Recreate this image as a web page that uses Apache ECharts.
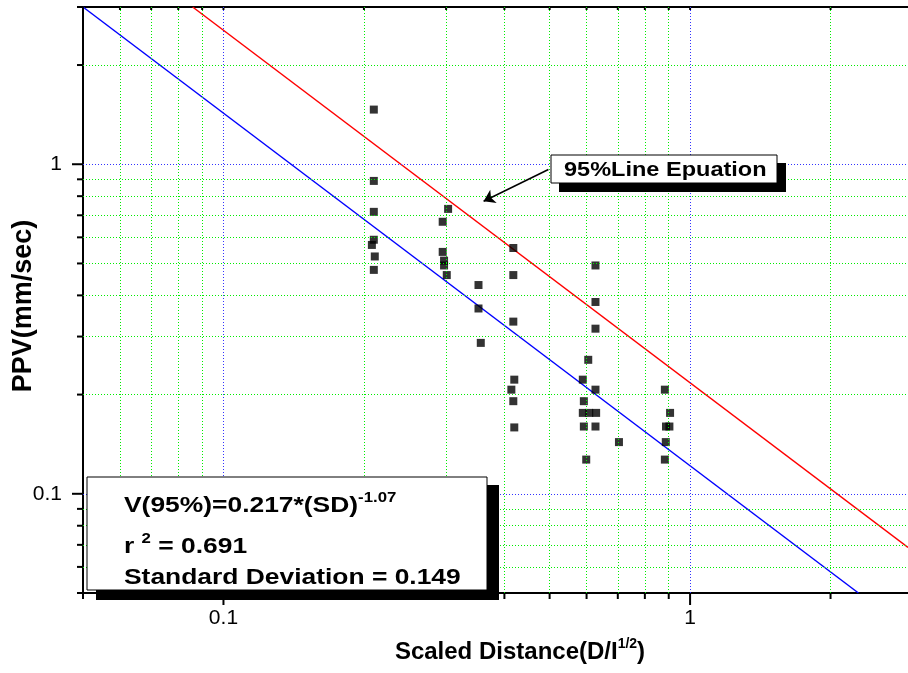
<!DOCTYPE html>
<html>
<head>
<meta charset="utf-8">
<script src="https://cdn.jsdelivr.net/npm/echarts@6/dist/echarts.min.js"></script>
<style>html,body{margin:0;padding:0;background:#fff}#c{width:908px;height:673px}</style>
</head>
<body>
<div id="c"></div>
<script>
// ---------- data ----------
const xRange = [0.05, 2.931];
const yRange = [0.05, 3.0];
const xTickLabels = [0.1, 1];
const yTickLabels = [0.1, 1];
const xMajorGrid = [0.1, 1];
const xMinorGrid = [0.06, 0.07, 0.08, 0.09, 0.2, 0.3, 0.4, 0.5, 0.6, 0.7, 0.8, 0.9, 2];
const yMajorGrid = [0.1, 1];
const yMinorGrid = [0.06, 0.07, 0.08, 0.09, 0.2, 0.3, 0.4, 0.5, 0.6, 0.7, 0.8, 0.9, 2];
const xMinorTicks = [0.05, 0.06, 0.07, 0.08, 0.09, 0.2, 0.3, 0.4, 0.5, 0.6, 0.7, 0.8, 0.9, 2];
const yMinorTicks = [0.05, 0.06, 0.07, 0.08, 0.09, 0.2, 0.3, 0.4, 0.5, 0.6, 0.7, 0.8, 0.9, 2, 3];
const majorTicks = [0.1, 1];

const measuredPPV = [
  [0.210, 1.465], [0.210, 0.890], [0.210, 0.717], [0.210, 0.590], [0.208, 0.569], [0.211, 0.525], [0.210, 0.478],
  [0.303, 0.732], [0.295, 0.669], [0.295, 0.542], [0.297, 0.510], [0.297, 0.493], [0.301, 0.461],
  [0.352, 0.430], [0.352, 0.365], [0.356, 0.287],
  [0.418, 0.557], [0.418, 0.461], [0.418, 0.333], [0.420, 0.222], [0.414, 0.207], [0.418, 0.191], [0.420, 0.159],
  [0.627, 0.493], [0.627, 0.382], [0.627, 0.317], [0.605, 0.255], [0.589, 0.222], [0.627, 0.207], [0.592, 0.191],
  [0.589, 0.176], [0.608, 0.176], [0.629, 0.176], [0.592, 0.160], [0.627, 0.160], [0.599, 0.127],
  [0.704, 0.1435],
  [0.883, 0.207], [0.906, 0.176], [0.888, 0.160], [0.903, 0.160], [0.887, 0.1435], [0.883, 0.127]
];
const line95 = [[0.0859, 3.0], [2.931, 0.0687]];
const lineFit = [[0.05, 3.0], [2.295, 0.05]];
const arrowFrom = [0.497, 0.964];
const arrowTo = [0.361, 0.772];

// ---------- chart ----------
const FONT = '"Liberation Sans", Arial, Helvetica, sans-serif';
const isMajor = v => majorTicks.some(t => Math.abs(Math.log10(v) - Math.log10(t)) < 1e-6);
const labelFor = (v, list) => {
  const t = list.find(t => Math.abs(Math.log10(v) - Math.log10(t)) < 1e-6);
  return t === undefined ? '' : String(t);
};

function gridSeries(xs, ys, color) {
  return {
    type: 'scatter', data: [], silent: true, z: 1,
    markLine: {
      silent: true, symbol: ['none', 'none'], label: {show: false},
      lineStyle: {color: color, width: 1, type: [1, 2]},
      emphasis: {disabled: true},
      data: xs.map(v => ({xAxis: v})).concat(ys.map(v => ({yAxis: v})))
    }
  };
}

function tickSeries(data, dir) {
  return {
    type: 'custom', silent: true, z: 4, clip: false,
    data: data,
    renderItem: function (params, api) {
      const xv = api.value(0), yv = api.value(1);
      const p = api.coord([xv, yv]);
      const major = dir === 'left' ? isMajor(yv) : isMajor(xv);
      let shape;
      if (dir === 'down') { const len = major ? 12 : 6; shape = {x1: p[0], y1: p[1], x2: p[0], y2: p[1] + len}; }
      else if (dir === 'left') { const len = major ? 11 : 6; shape = {x1: p[0], y1: p[1], x2: p[0] - len, y2: p[1]}; }
      else { shape = {x1: p[0], y1: p[1], x2: p[0], y2: p[1] + 3}; }
      return {type: 'line', shape: shape, style: {stroke: '#000', lineWidth: 2}};
    }
  };
}

const chart = echarts.init(document.getElementById('c'), null, {renderer: 'canvas'});
const option = {
  animation: false,
  backgroundColor: '#fff',
  textStyle: {fontFamily: FONT},
  grid: {left: 83, right: 0, top: 7, bottom: 80, containLabel: false, outerBoundsMode: 'none'},
  xAxis: [{
    type: 'log', logBase: 10, min: xRange[0], max: xRange[1],
    axisLine: {show: true, onZero: false, lineStyle: {color: '#000', width: 2}},
    axisTick: {show: false}, splitLine: {show: false},
    axisLabel: {show: true, margin: 15, fontSize: 21, color: '#000', fontFamily: FONT,
      formatter: v => labelFor(v, xTickLabels)},
    name: '{m|Scaled Distance(D/I}{s|1/2}{m|)}',
    nameLocation: 'middle', nameGap: 44, nameMoveOverlap: false,
    nameTextStyle: {
      color: '#000', fontSize: 24, fontWeight: 'bold', fontFamily: FONT, padding: [0, 0, 0, 49],
      rich: {
        m: {fontSize: 24, fontWeight: 'bold', fontFamily: FONT, color: '#000', lineHeight: 30},
        s: {fontSize: 14, fontWeight: 'bold', fontFamily: FONT, color: '#000', verticalAlign: 'top', lineHeight: 14}
      }
    }
  }, {
    type: 'log', logBase: 10, min: xRange[0], max: xRange[1], position: 'top',
    axisLine: {show: true, onZero: false, lineStyle: {color: '#000', width: 2}},
    axisTick: {show: false}, splitLine: {show: false}, axisLabel: {show: false}
  }],
  yAxis: [{
    type: 'log', logBase: 10, min: yRange[0], max: yRange[1],
    axisLine: {show: true, onZero: false, lineStyle: {color: '#000', width: 2}},
    axisTick: {show: false}, splitLine: {show: false},
    axisLabel: {show: true, margin: 21, fontSize: 21, color: '#000', fontFamily: FONT,
      formatter: v => labelFor(v, yTickLabels)},
    name: 'PPV(mm/sec)', nameLocation: 'middle', nameGap: 46, nameRotate: 90, nameMoveOverlap: false,
    nameTextStyle: {color: '#000', fontSize: 27, fontWeight: 'bold', fontFamily: FONT, padding: [0, 12, 0, 0]}
  }],
  series: [
    gridSeries(xMinorGrid, yMinorGrid, '#00ee00'),
    gridSeries(xMajorGrid, yMajorGrid, '#3333ff'),
    {
      type: 'line', data: lineFit, symbol: 'none', silent: true, z: 2, clip: true,
      lineStyle: {color: '#0000ff', width: 1.5}
    },
    {
      type: 'line', data: line95, symbol: 'none', silent: true, z: 2, clip: true,
      lineStyle: {color: '#ff0000', width: 1.5}
    },
    {
      type: 'scatter', data: measuredPPV, symbol: 'rect', symbolSize: 8, z: 3, silent: true,
      itemStyle: {color: '#000', borderWidth: 0}
    },
    {
      type: 'scatter', data: [], silent: true, z: 6,
      markLine: {
        silent: true, symbol: ['none', 'arrow'], symbolSize: 11, label: {show: false},
        lineStyle: {color: '#000', width: 1.5, type: 'solid'},
        data: [[{coord: arrowFrom}, {coord: arrowTo}]]
      }
    },
    tickSeries(xMinorTicks.concat(majorTicks).map(v => [v, yRange[0]]), 'down'),
    tickSeries(yMinorTicks.concat(majorTicks).map(v => [xRange[0], v]), 'left'),
    tickSeries(xMinorTicks.concat(majorTicks).map(v => [v, yRange[1]]), 'topin')
  ],
  graphic: [
    {type: 'rect', z: 100, shape: {x: 559, y: 163, width: 227, height: 29}, style: {fill: '#000'}},
    {type: 'rect', z: 101, shape: {x: 551, y: 155, width: 226, height: 28}, style: {fill: '#fff', stroke: '#000', lineWidth: 1}},
    {type: 'text', z: 102, x: 564, y: 170, scaleX: 1.12,
      style: {text: '95%Line Epuation', font: 'bold 21px ' + FONT, fill: '#000',
        align: 'left', textAlign: 'left', verticalAlign: 'middle', textVerticalAlign: 'middle'}},
    {type: 'rect', z: 100, shape: {x: 96, y: 485, width: 403, height: 115}, style: {fill: '#000'}},
    {type: 'rect', z: 101, shape: {x: 87, y: 477, width: 400, height: 113}, style: {fill: '#fff', stroke: '#000', lineWidth: 1}},
    {type: 'text', z: 102, x: 124, y: 491, scaleX: 1.2,
      style: {text: '{m|V(95%)=0.217*(SD)}{s|-1.07}', fill: '#000',
        align: 'left', textAlign: 'left', verticalAlign: 'top', textVerticalAlign: 'top',
        rich: {
          m: {fontSize: 22, fontWeight: 'bold', fontFamily: FONT, fill: '#000', lineHeight: 30},
          s: {fontSize: 14, fontWeight: 'bold', fontFamily: FONT, fill: '#000', lineHeight: 10, verticalAlign: 'top'}
        }}},
    {type: 'text', z: 102, x: 124, y: 532, scaleX: 1.2,
      style: {text: '{m|r }{s|2}{m| = 0.691}', fill: '#000',
        align: 'left', textAlign: 'left', verticalAlign: 'top', textVerticalAlign: 'top',
        rich: {
          m: {fontSize: 22, fontWeight: 'bold', fontFamily: FONT, fill: '#000', lineHeight: 30},
          s: {fontSize: 14, fontWeight: 'bold', fontFamily: FONT, fill: '#000', lineHeight: 14, verticalAlign: 'top'}
        }}},
    {type: 'text', z: 102, x: 124, y: 563, scaleX: 1.2,
      style: {text: '{m|Standard Deviation = 0.149}', fill: '#000',
        align: 'left', textAlign: 'left', verticalAlign: 'top', textVerticalAlign: 'top',
        rich: {
          m: {fontSize: 22, fontWeight: 'bold', fontFamily: FONT, fill: '#000', lineHeight: 30}
        }}}
  ]
};
chart.setOption(option);
</script>
</body>
</html>
